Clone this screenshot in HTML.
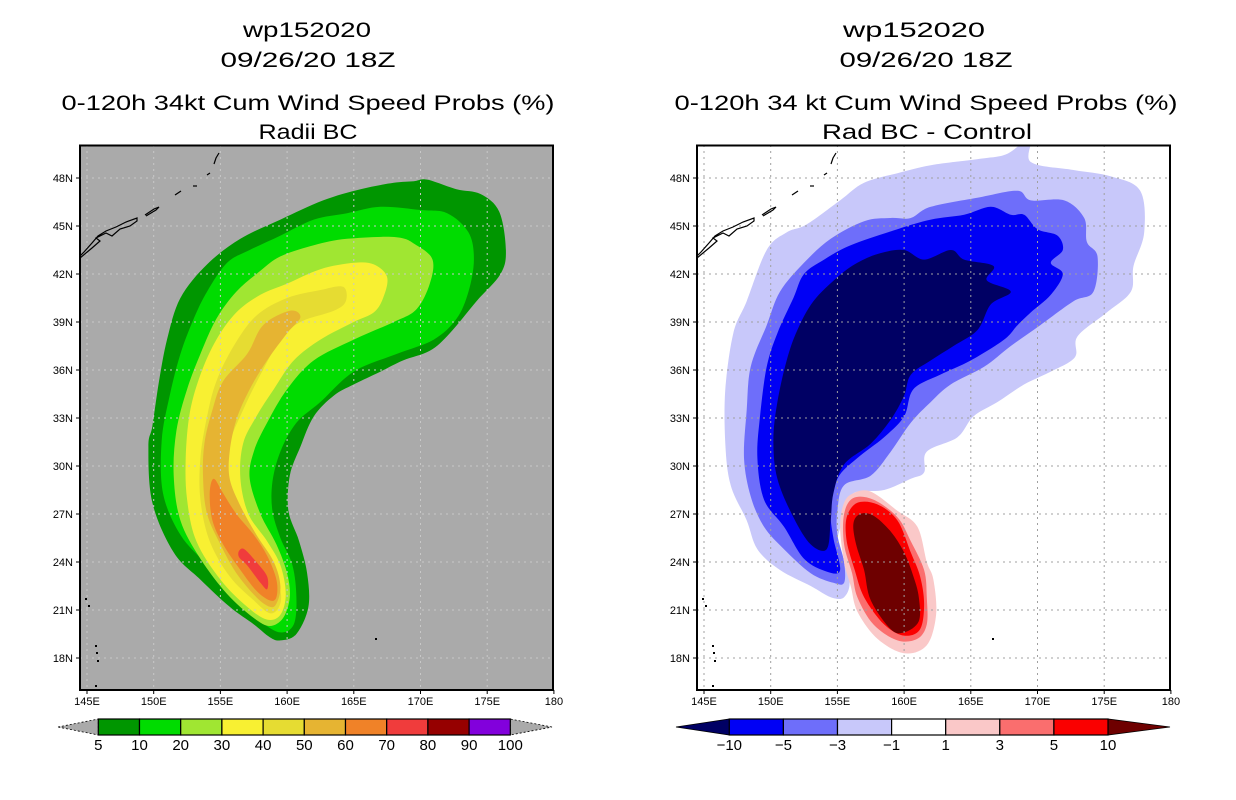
<!DOCTYPE html>
<html><head><meta charset="utf-8"><style>
html,body{margin:0;padding:0;background:#fff;}
svg{display:block;font-family:"Liberation Sans",sans-serif;}
</style></head><body>
<svg id="fig" width="1236" height="800" viewBox="0 0 1236 800" xmlns="http://www.w3.org/2000/svg">
<defs>
<clipPath id="clipL"><rect x="80" y="145" width="473" height="545"/></clipPath>
<clipPath id="clipR"><rect x="697" y="145" width="474" height="545"/></clipPath>
</defs>
<g font-size="21" text-anchor="middle" fill="#000">
<text x="307" y="37" textLength="128" lengthAdjust="spacingAndGlyphs">wp152020</text>
<text x="308" y="67" textLength="175" lengthAdjust="spacingAndGlyphs">09/26/20 18Z</text>
<text x="308" y="110" textLength="493" lengthAdjust="spacingAndGlyphs">0-120h 34kt Cum Wind Speed Probs (%)</text>
<text x="308" y="139" textLength="99" lengthAdjust="spacingAndGlyphs">Radii BC</text>
</g>
<g font-size="21" text-anchor="middle" fill="#000">
<text x="914" y="37" textLength="142" lengthAdjust="spacingAndGlyphs">wp152020</text>
<text x="926" y="67" textLength="173" lengthAdjust="spacingAndGlyphs">09/26/20 18Z</text>
<text x="926" y="110" textLength="503" lengthAdjust="spacingAndGlyphs">0-120h 34 kt Cum Wind Speed Probs (%)</text>
<text x="927" y="139" textLength="210" lengthAdjust="spacingAndGlyphs">Rad BC - Control</text>
</g>
<g id="panelL"></g>
<g id="panelR"></g>
<g id="cbars"></g>
</svg>
<script>
const NS="http://www.w3.org/2000/svg";
// ---- axis data ----
const lonTicks=[145,150,155,160,165,170,175,180];
const lonLabels=["145E","150E","155E","160E","165E","170E","175E","180"];
const latTicks=[48,45,42,39,36,33,30,27,24,21,18];
const latLabels=["48N","45N","42N","39N","36N","33N","30N","27N","24N","21N","18N"];
// ---- left panel contour levels (lon,lat rings) ----
const levelsL=[5,10,20,30,40,50,60,70];
const colorsL=["#009600","#00dc00","#a0e632","#f8f032","#e6dc32","#e6b432","#f08228","#f03c3c"];
const ringL5=[[159.5,19.1],[160.7,19.5],[161.6,21.2],[161.5,23.3],[160.9,25.3],[160.1,27.2],[160.2,29.4],[161.0,31.2],[162.0,33.1],[163.5,34.4],[165.0,35.1],[167.0,35.9],[168.7,36.6],[170.7,37.2],[172.2,38.3],[174.2,40.3],[176.0,42.0],[176.4,43.5],[175.9,45.9],[174.5,47.0],[172.7,47.3],[170.5,47.9],[169.5,47.8],[168.0,47.7],[165.5,47.3],[162.7,46.6],[159.5,45.4],[156.5,44.2],[154.0,42.6],[152.0,40.5],[151.0,37.9],[150.4,35.3],[149.9,32.5],[149.6,31.2],[149.9,27.7],[151.5,24.6],[153.5,22.9],[155.7,21.2],[157.5,20.1],[158.7,19.3]];
const ringL10=[[159.5,19.6],[160.5,20.1],[160.7,21.8],[160.4,23.8],[159.5,25.5],[158.9,27.2],[158.9,29.0],[159.5,30.9],[160.7,32.7],[162.5,34.0],[165.0,35.9],[168.2,37.0],[171.0,37.9],[172.7,39.2],[173.6,40.9],[174.0,42.9],[173.6,44.6],[172.0,45.8],[170.0,46.0],[167.0,46.2],[164.5,45.8],[162.0,45.4],[159.5,44.4],[157.2,43.5],[155.5,42.7],[154.0,40.9],[153.0,39.2],[152.0,37.0],[151.2,34.4],[150.6,31.6],[150.7,28.3],[152.0,25.7],[154.0,23.8],[156.0,21.8],[158.0,20.3]];
const ringL20=[[159.5,43.1],[162.0,43.8],[164.5,44.2],[168.2,44.3],[169.7,43.8],[170.9,42.9],[170.7,41.4],[169.7,39.8],[168.0,39.0],[165.0,37.9],[162.0,36.6],[160.0,34.8],[158.5,32.7],[157.5,30.9],[157.2,29.2],[158.0,27.0],[159.2,25.1],[160.0,23.3],[160.2,21.8],[159.7,20.5],[158.7,20.0],[157.5,20.5],[155.5,22.0],[153.5,24.2],[152.0,26.6],[151.5,29.4],[151.7,32.2],[152.5,34.8],[153.5,37.0],[154.7,39.2],[156.2,40.9],[158.0,42.2]];
const ringL30=[[160.0,41.4],[162.5,42.3],[165.0,42.7],[166.5,42.6],[167.5,41.8],[167.2,40.5],[166.5,39.6],[165.0,39.0],[162.5,37.9],[160.5,36.6],[159.0,34.8],[157.7,33.1],[156.7,31.4],[156.5,29.2],[157.1,27.0],[158.5,25.3],[159.5,23.8],[159.9,22.0],[159.5,20.7],[158.5,20.4],[157.0,21.2],[155.0,22.9],[153.2,25.3],[152.5,27.9],[152.4,30.5],[152.7,33.3],[153.5,35.7],[154.7,37.9],[156.2,39.6],[158.0,40.7]];
const ringL40=[[160.0,40.5],[162.5,41.0],[164.2,41.2],[164.4,40.3],[163.5,39.7],[161.0,39.0],[159.5,37.9],[158.0,35.7],[156.7,33.5],[155.7,31.4],[155.6,29.2],[156.2,27.0],[157.5,25.3],[158.7,23.8],[159.5,22.2],[159.4,21.2],[158.7,20.8],[157.5,21.6],[155.7,23.1],[154.2,25.3],[153.5,27.9],[153.5,30.5],[154.0,33.1],[154.7,35.3],[156.0,37.5],[157.7,39.4]];
const ringL50=[[160.2,39.7],[161.0,39.3],[160.0,38.3],[158.5,36.6],[157.2,34.8],[156.2,32.9],[155.7,30.9],[155.7,29.2],[156.5,27.5],[157.7,25.7],[159.0,24.0],[159.5,22.5],[159.2,21.4],[158.7,21.2],[157.7,21.8],[156.2,23.3],[155.0,25.1],[154.0,27.0],[153.7,29.2],[153.8,31.4],[154.4,33.5],[155.2,35.3],[157.0,37.0],[158.2,38.8]];
const ringL60=[[154.5,29.2],[155.2,28.3],[156.2,27.0],[157.5,25.7],[158.5,24.4],[159.2,22.9],[159.2,21.8],[158.7,21.6],[157.7,22.2],[156.5,23.5],[155.2,25.1],[154.4,26.6],[154.2,28.3]];
const ringL70=[[156.4,24.7],[156.8,24.8],[157.7,24.0],[158.5,23.1],[158.5,22.3],[158.0,22.7],[157.0,23.8],[156.4,24.3]];
const ringsL=[ringL5,ringL10,ringL20,ringL30,ringL40,ringL50,ringL60,ringL70];
// ---- right panel difference contours ----
const levelsR=[-1,-3,-5,-10,1,3,5,10];
const colorsR=["#c8c8fa","#6e6efa","#0000f5","#000064","#fac8c8","#fa6e6e","#fa0000","#6e0000"];
const ringRm1=[[169.5,50.5],[169.5,49.0],[172.7,48.5],[175.5,48.1],[177.7,47.2],[178.0,44.6],[177.2,42.5],[177.0,40.9],[175.2,39.6],[173.0,38.1],[172.8,36.8],[171.0,35.9],[169.0,35.1],[167.0,34.0],[165.2,33.1],[164.0,31.8],[161.7,30.9],[161.5,29.6],[160.5,29.2],[158.5,28.5],[156.2,28.3],[155.6,27.0],[155.0,25.1],[155.9,22.9],[155.5,21.8],[154.5,21.8],[153.0,22.5],[150.7,23.5],[149.0,24.8],[148.2,26.6],[147.0,28.8],[146.6,31.4],[146.6,34.8],[147.2,38.3],[148.2,40.3],[149.7,43.5],[151.2,44.6],[152.7,45.1],[155.2,46.6],[157.0,47.7],[159.5,48.3],[162.0,48.8],[165.7,49.2],[167.7,49.5]];
const ringRm3=[[160.5,45.5],[162.0,46.2],[165.7,46.8],[168.5,47.2],[169.5,46.6],[172.0,46.6],[173.5,45.5],[173.7,44.0],[174.5,43.1],[174.2,40.9],[172.7,40.3],[170.2,38.8],[168.0,37.5],[166.0,36.2],[163.5,35.1],[162.0,34.0],[160.5,32.7],[159.0,30.9],[157.5,29.4],[155.5,28.8],[155.0,27.2],[155.0,25.7],[155.5,24.0],[155.5,22.7],[154.7,22.7],[153.0,23.3],[151.0,24.8],[149.5,26.2],[148.5,28.1],[148.0,30.5],[148.2,33.5],[148.5,36.2],[149.7,38.8],[150.7,40.9],[152.5,42.7],[154.5,44.2],[157.0,45.3],[159.0,45.5]];
const ringRm5=[[156.0,43.8],[159.5,44.8],[162.0,45.4],[164.5,45.7],[166.5,46.2],[168.0,45.7],[169.0,45.7],[170.0,44.8],[171.5,44.4],[171.9,43.5],[171.0,42.7],[171.9,42.0],[171.0,40.7],[169.5,39.6],[168.5,38.8],[167.5,37.9],[165.0,36.6],[162.7,35.7],[160.7,34.8],[160.0,33.1],[158.5,31.8],[156.5,30.5],[155.0,29.2],[154.5,27.2],[154.7,25.5],[155.2,23.5],[154.2,23.4],[152.5,24.2],[151.0,26.2],[149.5,27.9],[149.0,30.5],[149.2,33.1],[149.7,36.2],[150.5,38.3],[151.7,40.5],[152.5,42.0],[154.0,42.9]];
const ringRm10=[[158.2,43.3],[160.0,43.5],[161.5,42.9],[163.5,43.5],[164.5,42.9],[166.7,42.5],[166.2,41.6],[168.0,40.9],[166.5,40.1],[165.5,38.5],[163.7,37.5],[162.0,36.6],[160.5,35.7],[160.0,34.4],[159.0,32.9],[157.5,31.4],[155.5,30.1],[154.7,28.3],[154.5,26.6],[154.2,24.8],[153.0,25.1],[151.7,26.8],[150.5,29.2],[150.2,31.6],[150.5,34.0],[151.2,36.6],[152.0,38.5],[153.2,40.3],[155.0,41.8],[156.5,42.7]];
const ringRp1=[[156.2,28.3],[157.5,28.4],[159.5,27.2],[161.0,26.2],[161.7,24.0],[162.2,22.9],[162.4,20.7],[161.7,18.8],[160.0,18.3],[158.0,19.2],[156.5,20.9],[156.0,22.5],[155.5,24.0],[155.2,26.2],[155.5,27.7]];
const ringRp3=[[156.2,28.0],[157.7,27.9],[159.5,26.8],[160.5,25.3],[161.5,23.5],[161.7,21.8],[161.7,20.1],[161.0,19.2],[159.5,19.1],[157.7,20.1],[156.5,21.8],[156.1,23.3],[155.5,25.1],[155.5,27.0]];
const ringRp5=[[156.5,27.7],[158.0,27.6],[159.5,26.6],[160.5,24.6],[161.2,23.1],[161.5,21.4],[161.2,19.8],[160.0,19.4],[158.5,20.1],[157.0,21.8],[156.3,23.5],[155.7,25.3],[155.7,26.8]];
const ringRp10=[[156.7,27.0],[157.7,26.9],[159.0,25.9],[160.0,24.6],[160.7,23.1],[161.1,21.8],[161.1,20.3],[160.0,19.6],[159.0,19.8],[157.5,21.6],[157.0,23.5],[156.4,25.1],[156.2,26.4]];
const ringsR=[ringRm1,ringRm3,ringRm5,ringRm10,ringRp1,ringRp3,ringRp5,ringRp10];
// ---- colorbar data ----
const cbLabelsL=["5","10","20","30","40","50","60","70","80","90","100"];
const cbColorsL=["#009600","#00dc00","#a0e632","#f8f032","#e6dc32","#e6b432","#f08228","#f03c3c","#960000","#8200dc"];
const cbLabelsR=["\u221210","\u22125","\u22123","\u22121","1","3","5","10"];
const cbColorsR=["#0000f5","#6e6efa","#c8c8fa","#ffffff","#fac8c8","#fa6e6e","#fa0000"];

// ---- axis functions ----
function xL(lon){return 87+(lon-145)*13.34;}
function xR(lon){return 704+(lon-145)*13.34;}
function yS(lat){return 226+(45-lat)*16;}

function mk(tag,attrs,parent){const e=document.createElementNS(NS,tag);for(const k in attrs)e.setAttribute(k,attrs[k]);parent.appendChild(e);return e;}
function smoothPath(pts){
  const n=pts.length;let d="M"+pts[0][0].toFixed(1)+","+pts[0][1].toFixed(1);
  for(let i=0;i<n;i++){
    const p0=pts[(i-1+n)%n],p1=pts[i],p2=pts[(i+1)%n],p3=pts[(i+2)%n];
    const c1=[p1[0]+(p2[0]-p0[0])/6,p1[1]+(p2[1]-p0[1])/6];
    const c2=[p2[0]-(p3[0]-p1[0])/6,p2[1]-(p3[1]-p1[1])/6];
    d+="C"+c1[0].toFixed(1)+","+c1[1].toFixed(1)+" "+c2[0].toFixed(1)+","+c2[1].toFixed(1)+" "+p2[0].toFixed(1)+","+p2[1].toFixed(1);
  }
  return d+"Z";
}
const coast=[[[80,258],[92,248],[100,241],[96,238],[106,233],[112,236],[120,229],[130,226],[137,221],[137,218],[126,222],[116,227],[106,231],[98,236],[92,243],[84,252],[80,256]],[[146,216],[156,210],[159,207],[154,209],[145,215]],[[175,195],[181,191]],[[193,186],[197,186]],[[207,175],[210,173]],[[214,164],[216,158],[219,153]]];

function drawPanel(g,xf,x0,bg,rings,colors,levels,gridCol,prefix,clip){
  const gc=mk("g",{"clip-path":"url(#"+clip+")"},g);
  const bgR=mk("rect",{x:x0,y:145,width:474,height:545,fill:bg},gc);
  
  
  rings.forEach((r,i)=>{
    const pts=r.map(p=>[xf(p[0]),yS(p[1])]);
    const p=mk("path",{d:smoothPath(pts),fill:colors[i]},gc);
    
    
  });
  lonTicks.forEach(lon=>{
    const l=mk("line",{x1:xf(lon),x2:xf(lon),y1:145,y2:690,stroke:gridCol,"stroke-width":1,"stroke-dasharray":"2,4"},gc);
    
    
  });
  latTicks.forEach(lat=>{
    const l=mk("line",{x1:x0,x2:x0+474,y1:yS(lat),y2:yS(lat),stroke:gridCol,"stroke-width":1,"stroke-dasharray":"2,4"},gc);
    
    
  });
  const off=x0-80;
  coast.forEach(c=>{
    const pl=mk("polyline",{points:c.map(p=>(p[0]+off)+","+p[1]).join(" "),fill:"none",stroke:"#000","stroke-width":1.2},gc);
    
    
  });
  [[85,598],[88,605],[95,645],[96,652],[97,660],[95,685],[375,638]].forEach(p=>{
    const r=mk("rect",{x:p[0]+off,y:p[1],width:2,height:2,fill:"#000"},gc);
    
    
  });
  const fr=mk("rect",{x:x0,y:145.5,width:473,height:544.5,fill:"none",stroke:"#000","stroke-width":2},g);
  
  
  lonTicks.forEach((lon,i)=>{
    const t=mk("line",{x1:xf(lon),x2:xf(lon),y1:690,y2:694,stroke:"#000"},g);
    
    
    const tx=mk("text",{x:xf(lon),y:705,"font-size":11,"text-anchor":"middle"},g);
    tx.textContent=lonLabels[i];
    
    
  });
  latTicks.forEach((lat,i)=>{
    const t=mk("line",{x1:x0-4,x2:x0,y1:yS(lat),y2:yS(lat),stroke:"#000"},g);
    
    
    const tx=mk("text",{x:x0-7,y:yS(lat)+4,"font-size":11,"text-anchor":"end"},g);
    tx.textContent=latLabels[i];
    
    
  });
}
drawPanel(document.getElementById("panelL"),xL,80,"#aaaaaa",ringsL,colorsL,levelsL,"#c8c8c8","left","clipL");
drawPanel(document.getElementById("panelR"),xR,697,"#ffffff",ringsR,colorsR,levelsR,"#a0a0a0","right","clipR");

function drawCbar(g,x0,x1,tipL,tipR,cols,labels,colL,colR,prefix){
  const n=cols.length,w=(x1-x0)/n,y0=719,y1=735;
  const tl=mk("polygon",{points:tipL+",727 "+x0+","+y0+" "+x0+","+y1,fill:colL,stroke:"#000","stroke-width":0.8,"stroke-dasharray":colL==="#aaaaaa"?"2,2":"none"},g);
  
  
  const tr=mk("polygon",{points:tipR+",727 "+x1+","+y0+" "+x1+","+y1,fill:colR,stroke:"#000","stroke-width":0.8,"stroke-dasharray":colR==="#aaaaaa"?"2,2":"none"},g);
  
  
  cols.forEach((c,i)=>{
    const r=mk("rect",{x:x0+i*w,y:y0,width:w,height:y1-y0,fill:c,stroke:"#000","stroke-width":1.2},g);
    
    
  });
  labels.forEach((l,i)=>{
    const t=mk("text",{x:x0+i*w,y:750,"font-size":15,"text-anchor":"middle"},g);
    t.textContent=l;
    
    
  });
}
const cb=document.getElementById("cbars");
drawCbar(cb,98.3,510.3,58,552,cbColorsL,cbLabelsL,"#aaaaaa","#aaaaaa","left");
drawCbar(cb,729.3,1108,676,1170,cbColorsR,cbLabelsR,"#000064","#6e0000","right");
</script>
</body></html>
